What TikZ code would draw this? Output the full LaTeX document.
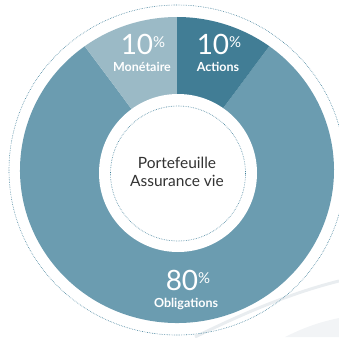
\documentclass[tikz,border=0pt]{standalone}
\usepackage{fontspec}
\setmainfont{Lato}
\definecolor{actc}{HTML}{417D95}
\definecolor{monc}{HTML}{9BBAC6}
\definecolor{oblc}{HTML}{6B9CB0}
\definecolor{dotc}{HTML}{3F7F99}
\definecolor{swc}{HTML}{E9EDF0}
\definecolor{txtc}{HTML}{333333}
\tikzset{
  dotring/.style={draw=dotc, line width=0.6pt, dash pattern=on 0.6pt off 1.1pt},
  lbl/.style={text=white, font=\bfseries\fontsize{12.5}{12.5}\selectfont, inner sep=0pt, anchor=base},
  num/.style={text=white, font=\fontsize{28}{28}\selectfont, inner sep=0pt, anchor=base},
  centertxt/.style={text=txtc, font=\fontsize{15.5}{18}\selectfont, align=center, inner sep=0pt}
}
\newcommand{\bigpct}[1]{#1\raisebox{7pt}{\fontsize{15}{15}\selectfont\%}}
\begin{document}
\begin{tikzpicture}[x=1pt,y=1pt]
\useasboundingbox (0,0) rectangle (339,-337);
% swooshes
\draw[swc, line width=3pt] (195,-337) .. controls (250,-310) and (295,-292) .. (339,-281);
\fill[swc!60] (285,-337) .. controls (305,-327) and (320,-322) .. (339,-318) -- (339,-337) -- cycle;
% outer dotted ring
\draw[dotring] (177,-170) ellipse [x radius=168pt, y radius=165pt];
\begin{scope}[shift={(177,-170)}]
  \fill[oblc] (0,0) -- (126:157pt and 153pt) arc[start angle=126, end angle=414, x radius=157pt, y radius=153pt] -- cycle;
  \fill[monc] (0,0) -- (90:157pt and 153pt) arc[start angle=90, end angle=126, x radius=157pt, y radius=153pt] -- cycle;
  \fill[actc] (0,0) -- (54:157pt and 153pt) arc[start angle=54, end angle=90, x radius=157pt, y radius=153pt] -- cycle;
\end{scope}
% hole
\fill[white] (178,-173) circle[radius=79pt];
\draw[dotring] (178,-173.5) circle[radius=67.5pt];
% labels
\node[num] (monn) at (143,-54) {\bigpct{10}};
\node[lbl] (monl) at (142,-71) {Monétaire};
\node[num] (actn) at (219,-54) {\bigpct{10}};
\node[lbl] (actl) at (218,-71) {Actions};
\node[num] (obln) at (188,-290) {\bigpct{80}};
\node[lbl] (obll) at (186,-307) {Obligations};
\node[centertxt] (ctr) at (177,-172) {Portefeuille\\Assurance vie};
\end{tikzpicture}
\end{document}
